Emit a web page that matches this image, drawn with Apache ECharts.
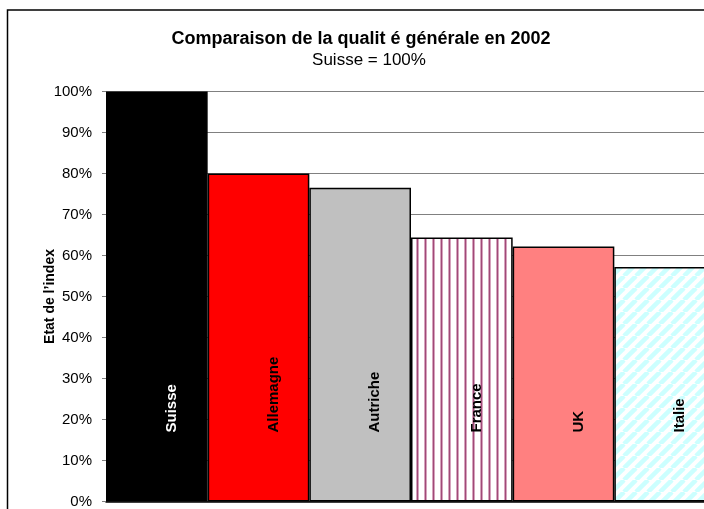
<!DOCTYPE html>
<html>
<head>
<meta charset="utf-8">
<style>
  html, body { margin: 0; padding: 0; background: #fff; overflow: hidden; }
  #main { width: 720px; height: 509px; }
</style>
<script src="https://cdn.jsdelivr.net/npm/echarts@6/dist/echarts.min.js"></script>
</head>
<body>
<div id="main"></div>
<script>
  // données (Suisse = 100%)
  var pays = ['Suisse', 'Allemagne', 'Autriche', 'France', 'UK', 'Italie'];
  var valeurs = [100, 80, 76.5, 64.4, 62.2, 57.2];
  var ticksY = [0, 10, 20, 30, 40, 50, 60, 70, 80, 90, 100];

  // motifs (hachures) pour France et Italie
  function motifVertical() {
    var c = document.createElement('canvas');
    c.width = 8; c.height = 8;
    var ctx = c.getContext('2d');
    ctx.fillStyle = '#ffffff'; ctx.fillRect(0, 0, 8, 8);
    ctx.fillStyle = '#d6a3bd'; ctx.fillRect(0, 0, 1, 8); ctx.fillRect(2, 0, 1, 8);
    ctx.fillStyle = '#a04a78'; ctx.fillRect(1, 0, 1, 8);
    return c;
  }
  function motifDiagonal() {
    var n = 12;
    var c = document.createElement('canvas');
    c.width = n; c.height = n;
    var ctx = c.getContext('2d');
    ctx.fillStyle = '#ffffff'; ctx.fillRect(0, 0, n, n);
    ctx.strokeStyle = '#ccffff';
    ctx.lineWidth = 4.5;
    for (var k = -1; k <= 1; k++) {
      ctx.beginPath();
      ctx.moveTo(k * n, n);
      ctx.lineTo(k * n + n, 0);
      ctx.stroke();
    }
    return c;
  }

  var couleurs = ['#000000', '#ff0000', '#c0c0c0',
    { image: motifVertical(), repeat: 'repeat' },
    '#ff8080',
    { image: motifDiagonal(), repeat: 'repeat' }];
  var couleursTexte = ['#ffffff', '#000000', '#000000', '#000000', '#000000', '#000000'];

  var myChart = echarts.init(document.getElementById('main'));

  var option = {
    animation: false,
    backgroundColor: '#ffffff',
    textStyle: { fontFamily: 'Liberation Sans, Arial, sans-serif' },
    title: [{
      text: 'Comparaison de la qualit é générale en 2002',
      left: 356,
      textAlign: 'center',
      top: 25,
      textStyle: { fontSize: 18, fontWeight: 'bold', color: '#000' }
    }, {
      text: 'Suisse = 100%',
      left: 364,
      textAlign: 'center',
      top: 47,
      textStyle: { fontSize: 17, fontWeight: 'normal', color: '#000' }
    }],
    graphic: [{
      type: 'rect',
      shape: { x: 7.5, y: 10, width: 740, height: 540 },
      style: { fill: null, stroke: '#000', lineWidth: 1.5 },
      silent: true,
      z: 100
    }],
    grid: { left: 106, top: 91.5, right: 4, bottom: 7.5 },
    xAxis: {
      type: 'category',
      data: pays,
      axisLine: { lineStyle: { color: '#000', width: 1.5 } },
      axisTick: { show: false },
      axisLabel: { show: false }
    },
    yAxis: {
      type: 'value',
      min: ticksY[0],
      max: ticksY[ticksY.length - 1],
      interval: 10,
      name: 'Etat de l’index',
      nameLocation: 'middle',
      nameGap: 49,
      nameMoveOverlap: false,
      nameTextStyle: { fontSize: 14, fontWeight: 'bold', color: '#000' },
      axisLine: { show: true, lineStyle: { color: '#808080' } },
      axisTick: { show: true, length: 4, lineStyle: { color: '#808080' } },
      axisLabel: { formatter: '{value}%', fontSize: 15, color: '#000', margin: 14 },
      splitLine: { lineStyle: { color: '#808080', width: 1 } }
    },
    series: [{
      name: 'Etat de l’index',
      type: 'bar',
      barCategoryGap: 0,
      data: valeurs.map(function (v, i) {
        return {
          value: v,
          itemStyle: { color: couleurs[i] },
          label: { color: couleursTexte[i] }
        };
      }),
      itemStyle: { borderColor: '#000', borderWidth: 1.5 },
      label: {
        show: true,
        formatter: '{b}',
        position: 'insideBottom',
        distance: 69,
        rotate: 90,
        align: 'left',
        verticalAlign: 'middle',
        offset: [0, 15],
        fontSize: 15,
        fontWeight: 'bold'
      }
    }]
  };

  myChart.setOption(option);
</script>
</body>
</html>
